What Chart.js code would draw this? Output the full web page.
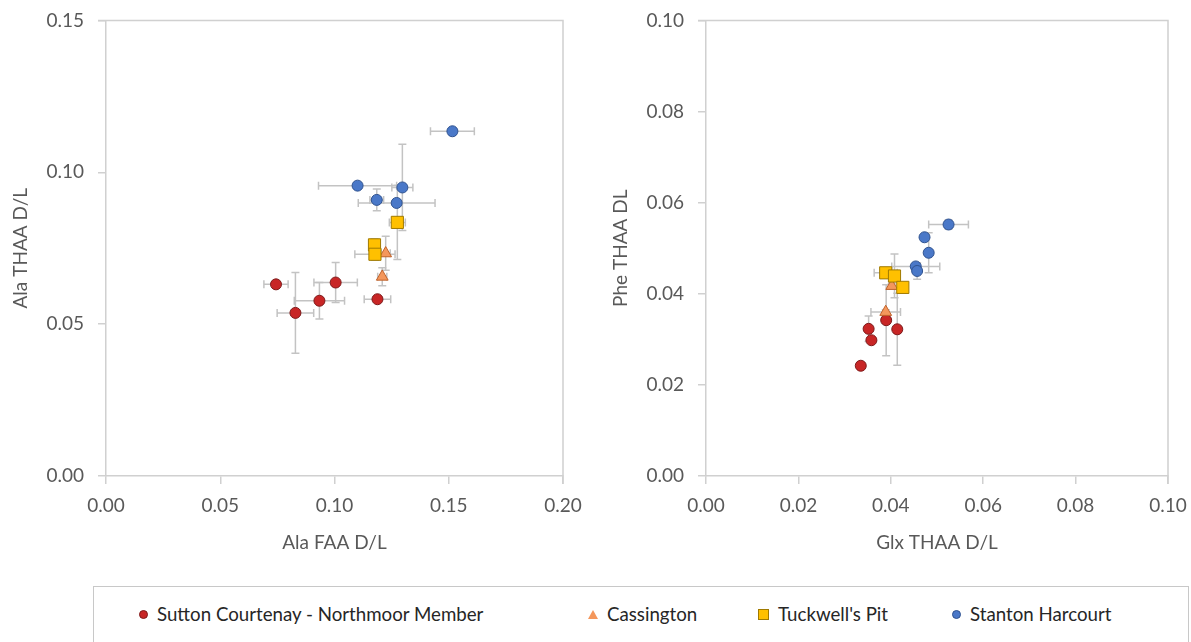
<!DOCTYPE html>
<html>
<head>
<meta charset="utf-8">
<script src="https://cdn.jsdelivr.net/npm/chart.js@4.4.1/dist/chart.umd.min.js"></script>
<style>
  body { margin: 0; background: #fff; width: 1191px; height: 642px; overflow: hidden; position: relative; font-family: Lato, sans-serif; }
  #left { position: absolute; left: 0; top: -5px; width: 600px; height: 575px; }
  #right { position: absolute; left: 600px; top: -5px; width: 599px; height: 575px; }
  #legend { position: absolute; left: 93px; top: 586px; width: 1094px; height: 80px; border: 1.5px solid #c8c8c8; border-bottom: none; }
  .item { position: absolute; top: 600px; height: 28px; line-height: 28px; font-size: 18.7px; color: #262626; white-space: nowrap; }
  .mk { position: absolute; box-sizing: border-box; }
</style>
</head>
<body>
<div id="left"><canvas id="c1"></canvas></div>
<div id="right"><canvas id="c2"></canvas></div>
<div id="legend"></div>
<div id="items"></div>
<script>
const seriesNames = ["Sutton Courtenay - Northmoor Member", "Cassington", "Tuckwell's Pit", "Stanton Harcourt"];
const fills = ["#c82626", "#f4975c", "#ffc000", "#4a78c8"];
const borders = ["#7d1a1a", "#c0622a", "#a07a00", "#2f528f"];
const shapes = ["circle", "triangle", "rect", "circle"];
const radii = [5.5, 6.8, 8.6, 5.5];

// Left plot: Ala FAA D/L (x) vs Ala THAA D/L (y)
const suttonAlaFaa = [0.0744, 0.1005, 0.0934, 0.0829, 0.1188];
const suttonAlaFaaErr = [0.0053, 0.0095, 0.011, 0.008, 0.0058];
const suttonAlaThaa = [0.0631, 0.0637, 0.0577, 0.0537, 0.0582];
const suttonAlaThaaErr = [0.001, 0.0066, 0.006, 0.0133, 0.001];

const cassAlaFaa = [0.1224, 0.1209];
const cassAlaFaaErr = [0.002, 0.002];
const cassAlaThaa = [0.0733, 0.0656];
const cassAlaThaaErr = [0.0056, 0.003];

const tuckAlaFaa = [0.1275, 0.1175, 0.1177];
const tuckAlaFaaErr = [0.0035, 0.002, 0.0088];
const tuckAlaThaa = [0.0835, 0.0761, 0.073];
const tuckAlaThaaErr = [0.0122, 0.002, 0.002];

const stantonAlaFaa = [0.1516, 0.1101, 0.1297, 0.1185, 0.1272];
const stantonAlaFaaErr = [0.0096, 0.0171, 0.0046, 0.003, 0.0168];
const stantonAlaThaa = [0.1135, 0.0956, 0.095, 0.0909, 0.0899];
const stantonAlaThaaErr = [0.001, 0.001, 0.0142, 0.0036, 0.001];

// Right plot: Glx THAA D/L (x) vs Phe THAA D/L (y)
const suttonGlx = [0.0335, 0.0352, 0.0358, 0.039, 0.0414];
const suttonGlxErr = [0.0005, 0.0005, 0.0005, 0.0008, 0.0008];
const suttonPhe = [0.0242, 0.0323, 0.0298, 0.0342, 0.0322];
const suttonPheErr = [0.0004, 0.0028, 0.0005, 0.0078, 0.0079];

const cassGlx = [0.0402, 0.0389];
const cassGlxErr = [0.0006, 0.0032];
const cassPhe = [0.0417, 0.036];
const cassPheErr = [0.0005, 0.0005];

const tuckGlx = [0.0389, 0.0408, 0.0426];
const tuckGlxErr = [0.0025, 0.0006, 0.0006];
const tuckPhe = [0.0446, 0.0439, 0.0414];
const tuckPheErr = [0.0005, 0.0048, 0.0005];

const stantonGlx = [0.0525, 0.0473, 0.0482, 0.0454, 0.0457];
const stantonGlxErr = [0.0043, 0.0005, 0.0005, 0.0052, 0.0005];
const stantonPhe = [0.0552, 0.0524, 0.049, 0.046, 0.045];
const stantonPheErr = [0.001, 0.0005, 0.0044, 0.0005, 0.0018];

function pts(xs, xe, ys, ye) {
  return xs.map((x, i) => ({ x: x, y: ys[i], xErr: xe[i], yErr: ye[i] }));
}

function makeDatasets(groups) {
  return groups.map((g, k) => ({
    label: seriesNames[k],
    data: pts(g[0], g[1], g[2], g[3]),
    pointStyle: shapes[k],
    pointRadius: radii[k],
    pointHoverRadius: radii[k],
    backgroundColor: fills[k],
    borderColor: borders[k],
    borderWidth: 1,
    order: 3 - k
  }));
}

// error bars drawn through the chart's own scales
const errorBars = {
  id: "errorBars",
  beforeDatasetsDraw(chart) {
    const { ctx, scales: { x, y } } = chart;
    const cap = 4;
    ctx.save();
    ctx.strokeStyle = "#c3c3c3";
    ctx.lineWidth = 1.5;
    chart.data.datasets.forEach(ds => {
      ds.data.forEach(p => {
        const px = x.getPixelForValue(p.x);
        const py = y.getPixelForValue(p.y);
        ctx.beginPath();
        if (p.xErr) {
          const l = x.getPixelForValue(p.x - p.xErr);
          const r = x.getPixelForValue(p.x + p.xErr);
          ctx.moveTo(l, py); ctx.lineTo(r, py);
          ctx.moveTo(l, py - cap); ctx.lineTo(l, py + cap);
          ctx.moveTo(r, py - cap); ctx.lineTo(r, py + cap);
        }
        if (p.yErr) {
          const t = y.getPixelForValue(p.y + p.yErr);
          const b = y.getPixelForValue(p.y - p.yErr);
          ctx.moveTo(px, t); ctx.lineTo(px, b);
          ctx.moveTo(px - cap, t); ctx.lineTo(px + cap, t);
          ctx.moveTo(px - cap, b); ctx.lineTo(px + cap, b);
        }
        ctx.stroke();
      });
    });
    ctx.restore();
  }
};

// top and right edges of the plot frame
const frame = {
  id: "frame",
  afterDraw(chart) {
    const { ctx, chartArea: a } = chart;
    ctx.save();
    ctx.strokeStyle = "#d0d0d0";
    ctx.lineWidth = 1.5;
    ctx.beginPath();
    ctx.moveTo(a.left - 8, a.top);
    ctx.lineTo(a.right, a.top);
    ctx.lineTo(a.right, a.bottom + 8);
    ctx.stroke();
    ctx.restore();
  }
};

const tickFont = { family: "Lato", size: 19 };
const tickColor = "#595959";
const lineColor = "#d0d0d0";

function axis(max, step, title, horizontal) {
  return {
    type: "linear",
    min: 0,
    max: max,
    ticks: {
      stepSize: step,
      font: tickFont,
      color: tickColor,
      padding: horizontal ? 10 : 14,
      callback: v => v.toFixed(2)
    },
    grid: { drawOnChartArea: false, drawTicks: true, tickLength: 8, color: lineColor, lineWidth: 1.5 },
    border: { color: lineColor, width: 1.5 },
    title: {
      display: true,
      text: title,
      font: tickFont,
      color: tickColor,
      padding: horizontal ? { top: 0, bottom: 16 } : { top: 9, bottom: 0 }
    },
    afterFit: s => { if (horizontal) s.height = 94; else s.width = 106; }
  };
}

function makeChart(id, groups, xMax, xStep, yMax, yStep, xTitle, yTitle, padRight) {
  return new Chart(document.getElementById(id), {
    type: "scatter",
    data: { datasets: makeDatasets(groups) },
    options: {
      responsive: true,
      maintainAspectRatio: false,
      animation: false,
      layout: { padding: { top: 15, right: padRight, left: 0, bottom: 0 } },
      plugins: { legend: { display: false }, tooltip: { enabled: false } },
      scales: {
        x: axis(xMax, xStep, xTitle, true),
        y: axis(yMax, yStep, yTitle, false)
      }
    },
    plugins: [errorBars, frame]
  });
}

makeChart("c1", [
  [suttonAlaFaa, suttonAlaFaaErr, suttonAlaThaa, suttonAlaThaaErr],
  [cassAlaFaa, cassAlaFaaErr, cassAlaThaa, cassAlaThaaErr],
  [tuckAlaFaa, tuckAlaFaaErr, tuckAlaThaa, tuckAlaThaaErr],
  [stantonAlaFaa, stantonAlaFaaErr, stantonAlaThaa, stantonAlaThaaErr]
], 0.2, 0.05, 0.15, 0.05, "Ala FAA D/L", "Ala THAA D/L", 37);

makeChart("c2", [
  [suttonGlx, suttonGlxErr, suttonPhe, suttonPheErr],
  [cassGlx, cassGlxErr, cassPhe, cassPheErr],
  [tuckGlx, tuckGlxErr, tuckPhe, tuckPheErr],
  [stantonGlx, stantonGlxErr, stantonPhe, stantonPheErr]
], 0.1, 0.02, 0.1, 0.02, "Glx THAA D/L", "Phe THAA DL", 31);

// shared legend under both plots
const legendLeft = [137, 587, 757, 950];
const items = document.getElementById("items");
seriesNames.forEach((name, k) => {
  const el = document.createElement("div");
  el.className = "item";
  el.style.left = legendLeft[k] + "px";
  const mk = document.createElement("span");
  mk.className = "mk";
  if (shapes[k] === "circle") {
    Object.assign(mk.style, { left: "2px", top: "10px", width: "9px", height: "9px", borderRadius: "50%", background: fills[k], border: "1px solid " + borders[k] });
  } else if (shapes[k] === "rect") {
    Object.assign(mk.style, { left: "1px", top: "9px", width: "11px", height: "11px", background: fills[k], border: "1px solid " + borders[k] });
  } else {
    Object.assign(mk.style, { left: "1px", top: "10px", width: "0", height: "0", borderLeft: "5px solid transparent", borderRight: "5px solid transparent", borderBottom: "9px solid " + fills[k] });
  }
  el.appendChild(mk);
  const tx = document.createElement("span");
  tx.textContent = name;
  tx.style.marginLeft = (shapes[k] === "rect" ? 21 : 20) + "px";
  el.appendChild(tx);
  items.appendChild(el);
});
</script>
</body>
</html>
